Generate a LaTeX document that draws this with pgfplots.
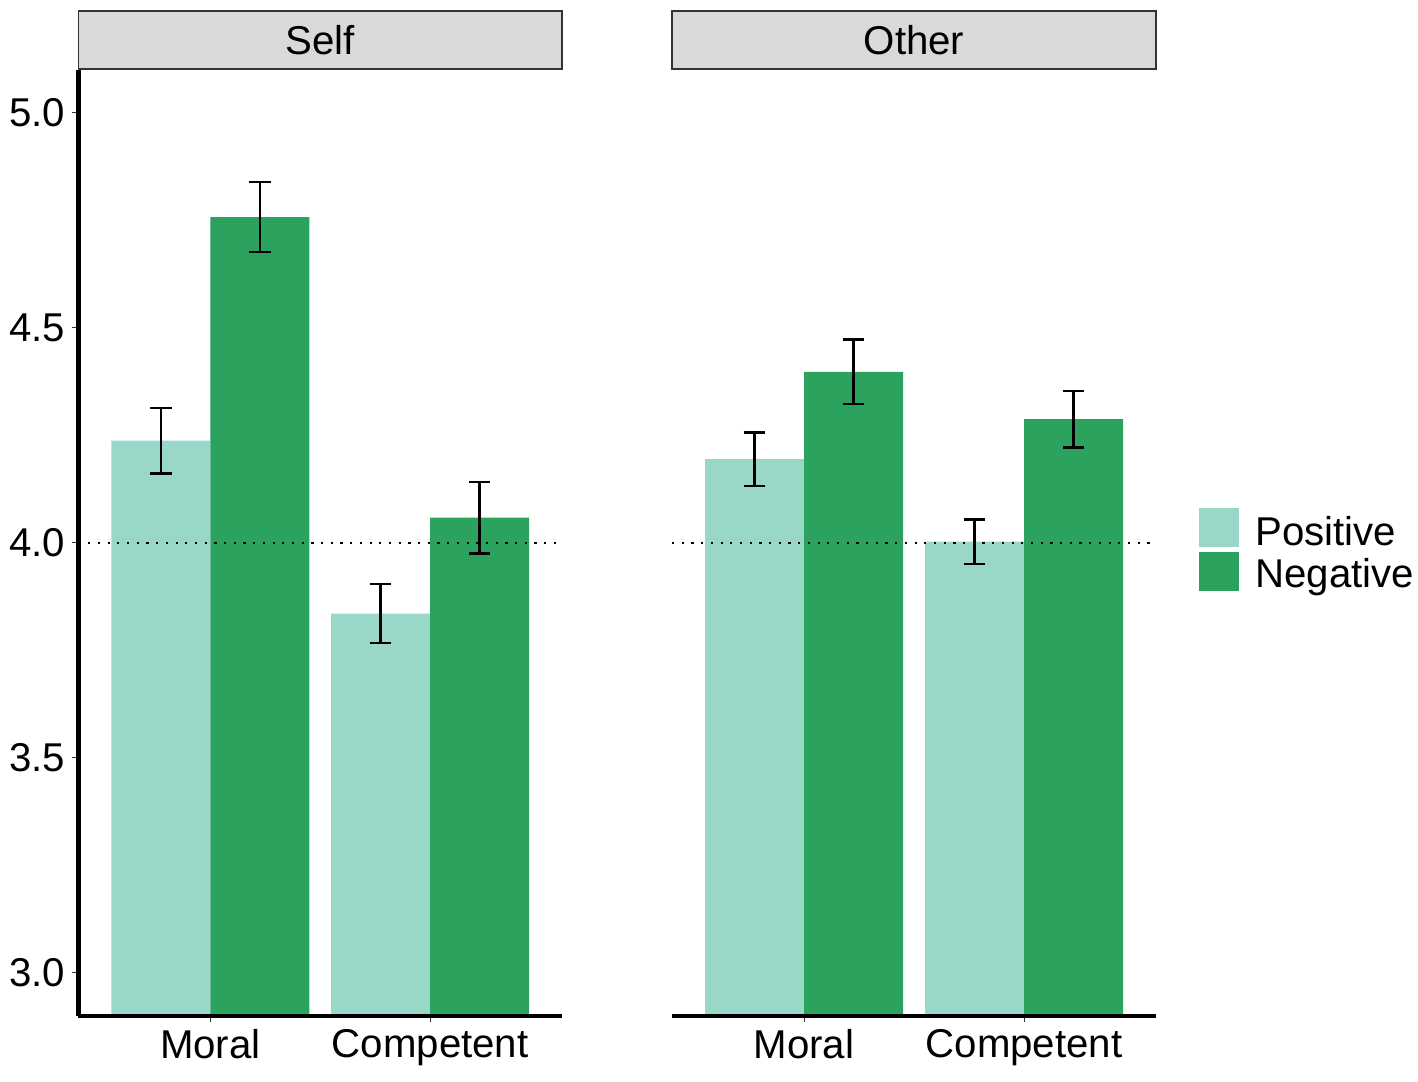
\documentclass[border=0pt]{standalone}
\usepackage{pgfplots}
\pgfplotsset{compat=1.18}
\usepackage{pgfplotstable}
\usepackage{fontspec}
\setmainfont{Liberation Sans}
\definecolor{poscol}{HTML}{99D8C9}
\definecolor{negcol}{HTML}{2CA25F}
\definecolor{stripfill}{HTML}{D9D9D9}
\definecolor{stripdraw}{HTML}{333333}
\newcommand\chartfont{\fontsize{20.1}{24}\selectfont}

\pgfplotstableread{
x y e
0.775 4.238 0.076
1.775 3.836 0.069
}\selfpos
\pgfplotstableread{
x y e
1.225 4.758 0.081
2.225 4.059 0.083
}\selfneg
\pgfplotstableread{
x y e
0.775 4.195 0.062
1.775 4.003 0.052
}\otherpos
\pgfplotstableread{
x y e
1.225 4.398 0.075
2.225 4.288 0.066
}\otherneg
\pgfplotstableread{
x y
0.4 4
2.6 4
}\refline

\pgfplotsset{
  panel/.style={
    scale only axis, height=473pt,
    xmin=0.4, xmax=2.6, ymin=2.9, ymax=5.1,
    xtick={1,2}, xticklabels={Moral,Competent},
    ytick={3,3.5,4,4.5,5},
    /pgf/number format/fixed,
    /pgf/number format/fixed zerofill,
    /pgf/number format/precision=1,
    /pgf/number format/assume math mode=true,
    tick label style={font=\chartfont, black},
    xticklabel style={anchor=north, inner sep=0pt, yshift=-3.5pt},
    yticklabel style={anchor=east, inner sep=0pt, xshift=-3.5pt},
    tick align=outside,
    major tick length=3pt,
    tick style={stripdraw, line width=0.5pt},
    axis line style={line width=2.2pt, black},
    axis on top=true,
  },
  barpos/.style={ybar, bar width=0.45, bar shift=0pt, fill=poscol, draw=none},
  barneg/.style={ybar, bar width=0.45, bar shift=0pt, fill=negcol, draw=none},
  errs/.style={error bars/.cd, y dir=both, y explicit,
    error bar style={line width=1.2pt, black},
    error mark options={rotate=90, mark size=5.4pt, line width=1.2pt, black}},
  dotline/.style={black, line width=1.1pt, dash pattern=on 1.1pt off 3.75pt},
}

\begin{document}
\begin{tikzpicture}
\useasboundingbox (0,0) rectangle (709pt,540.5pt);

\begin{axis}[panel, name=self, at={(39.25pt,32.5pt)}, anchor=south west,
  width=241.75pt, axis x line*=bottom, axis y line*=left]
  \addplot[barpos, errs] table[x=x, y=y, y error=e] {\selfpos};
  \addplot[barneg, errs] table[x=x, y=y, y error=e] {\selfneg};
  \addplot[dotline] table[x=x, y=y] {\refline};
\end{axis}

\begin{axis}[panel, name=other, at={(336pt,32.5pt)}, anchor=south west,
  width=242pt, axis x line*=bottom, axis y line=none]
  \addplot[barpos, errs] table[x=x, y=y, y error=e] {\otherpos};
  \addplot[barneg, errs] table[x=x, y=y, y error=e] {\otherneg};
  \addplot[dotline] table[x=x, y=y] {\refline};
\end{axis}

\draw[stripdraw, fill=stripfill, line width=0.6pt]
  ([yshift=0.5pt]self.north west) rectangle ([yshift=29.5pt]self.north east);
\node[font=\chartfont, inner sep=0pt] at ([yshift=15pt]self.north) {Self};
\draw[stripdraw, fill=stripfill, line width=0.6pt]
  ([yshift=0.5pt]other.north west) rectangle ([yshift=29.5pt]other.north east);
\node[font=\chartfont, inner sep=0pt] at ([yshift=15pt]other.north) {Other};

\fill[poscol] (599.7pt,266.85pt) rectangle (619.7pt,286.35pt);
\fill[negcol] (599.7pt,245.15pt) rectangle (619.7pt,264.65pt);
\node[font=\chartfont, anchor=base west, inner sep=0pt] at (627.5pt,267.5pt) {Positive};
\node[font=\chartfont, anchor=base west, inner sep=0pt] at (627.5pt,246.5pt) {Negative};
\end{tikzpicture}
\end{document}
